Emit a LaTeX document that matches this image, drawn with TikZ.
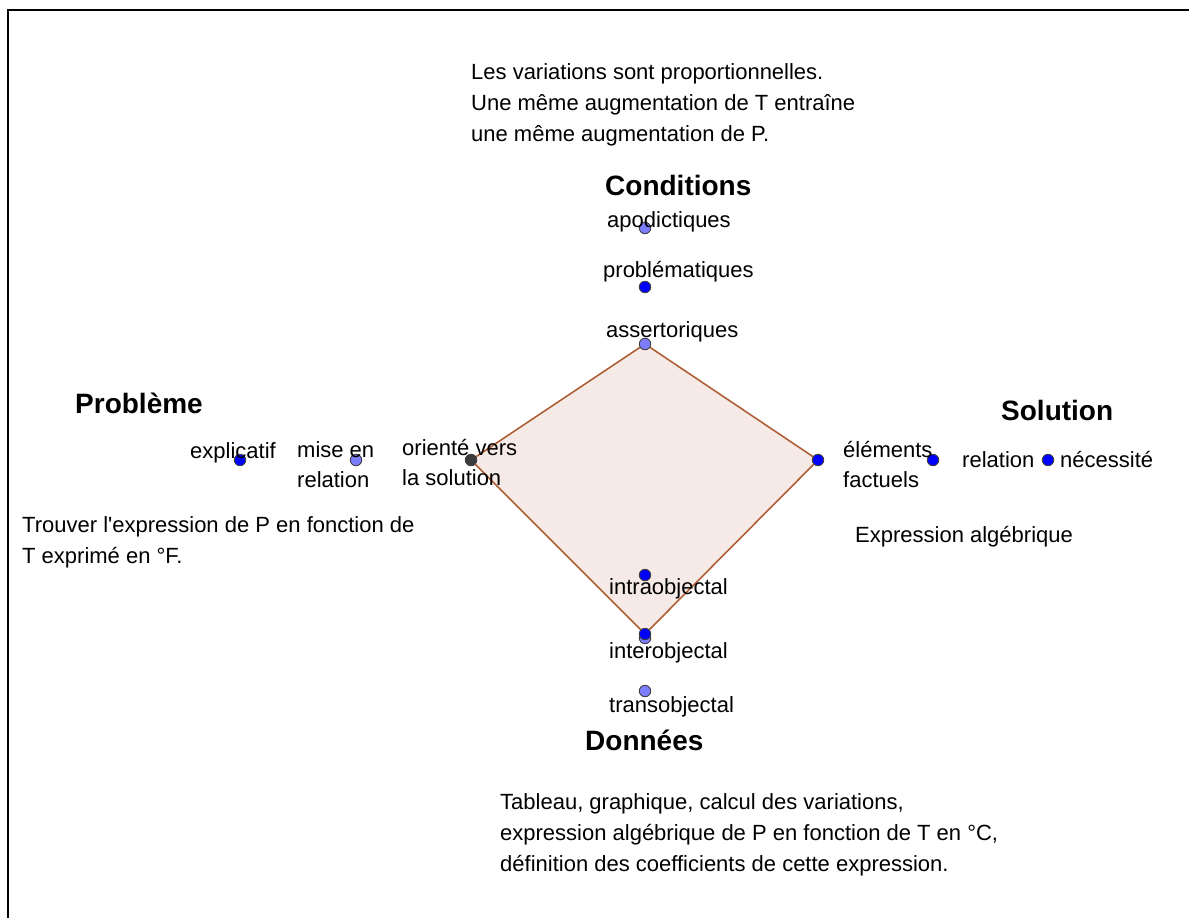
\documentclass[tikz,border=0pt]{standalone}
\usepackage{fontspec}
\setmainfont{Liberation Sans}[Ligatures=TeXOff]
\usetikzlibrary{calc}
\definecolor{ptdark}{RGB}{0,0,255}
\definecolor{ptlight}{RGB}{125,125,255}
\definecolor{ptblack}{RGB}{60,60,60}
\definecolor{polyline}{RGB}{176,96,56}
\definecolor{polyfill}{RGB}{153,51,0}
\tikzset{
  pt/.style={circle,draw=black!75,line width=0.9pt,inner sep=0pt,minimum size=11.5pt},
  lbl/.style={anchor=base west,inner sep=0pt,align=left,font=\fontsize{22}{30}\selectfont},
  txt/.style={lbl,font=\fontsize{22}{31}\selectfont},
  head/.style={anchor=base west,inner sep=0pt,font=\fontsize{28}{34}\selectfont\bfseries},
}
\begin{document}
\begin{tikzpicture}[x=1pt,y=-1pt]
\useasboundingbox (0,0) rectangle (1189,918);
\draw[line width=1.5pt] (8,918) -- (8,10) -- (1189,10);

% points
\coordinate (c-apo) at (645,228);
\coordinate (c-prob) at (645,287);
\coordinate (c-ass) at (645,344);
\coordinate (p-expl) at (240,460);
\coordinate (p-mise) at (356,460);
\coordinate (p-orient) at (471,460);
\coordinate (s-elem) at (818,460);
\coordinate (s-rel) at (933,460);
\coordinate (s-nec) at (1048,460);
\coordinate (d-intra) at (645,575);
\coordinate (d-inter) at (645,634);
\coordinate (d-interb) at (645,638);
\coordinate (d-trans) at (645,691);

\fill[polyfill,opacity=0.1] (c-ass) -- (s-elem) -- (d-inter) -- (p-orient) -- cycle;
\draw[polyline,line width=1.6pt] (c-ass) -- (s-elem) -- (d-inter) -- (p-orient) -- cycle;

\node[pt,fill=ptlight] at (c-apo) {};
\node[pt,fill=ptdark] at (c-prob) {};
\node[pt,fill=ptlight] at (c-ass) {};
\node[pt,fill=ptdark] at (p-expl) {};
\node[pt,fill=ptlight] at (p-mise) {};
\node[pt,fill=ptblack] at (p-orient) {};
\node[pt,fill=ptdark] at (s-elem) {};
\node[pt,fill=ptdark] at (s-rel) {};
\node[pt,fill=ptdark] at (s-nec) {};
\node[pt,fill=ptdark] at (d-intra) {};
\node[pt,fill=ptlight] at (d-interb) {};
\node[pt,fill=ptdark] at (d-inter) {};
\node[pt,fill=ptlight] at (d-trans) {};

% labels
\node[lbl] (l-apo) at ($(c-apo)+(-38,-1)$) {apodictiques};
\node[lbl] (l-prob) at ($(c-prob)+(-42,-10)$) {problématiques};
\node[lbl] (l-ass) at ($(c-ass)+(-39,-7)$) {assertoriques};
\node[lbl] (l-expl) at ($(p-expl)+(-50,-2)$) {explicatif};
\node[lbl] (l-mise) at ($(p-mise)+(-59,27)$) {mise en\\relation};
\node[lbl] (l-orient) at ($(p-orient)+(-69,25)$) {orienté vers\\la solution};
\node[lbl] (l-elem) at ($(s-elem)+(25,27)$) {éléments\\factuels};
\node[lbl] (l-rel) at ($(s-rel)+(29,7)$) {relation};
\node[lbl] (l-nec) at ($(s-nec)+(12,7)$) {nécessité};
\node[lbl] (l-intra) at ($(d-intra)+(-36,19)$) {intraobjectal};
\node[lbl] (l-inter) at ($(d-inter)+(-36,24)$) {interobjectal};
\node[lbl] (l-trans) at ($(d-trans)+(-36,21)$) {transobjectal};

% headings
\node[head] (h-cond) at (605,195) {Conditions};
\node[head] (h-prob) at (75,413) {Problème};
\node[head] (h-sol) at (1001,420) {Solution};
\node[head] (h-don) at (585,750) {Données};

% comments
\node[txt] (t-cond) at (471,141) {Les variations sont proportionnelles.\\Une même augmentation de T entraîne\\une même augmentation de P.};
\node[txt] (t-prob) at (22,563) {Trouver l'expression de P en fonction de\\T exprimé en °F.};
\node[txt] (t-sol) at (855,542) {Expression algébrique};
\node[txt] (t-don) at (500,871) {Tableau, graphique, calcul des variations,\\expression algébrique de P en fonction de T en °C,\\définition des coefficients de cette expression.};
\end{tikzpicture}
\end{document}
